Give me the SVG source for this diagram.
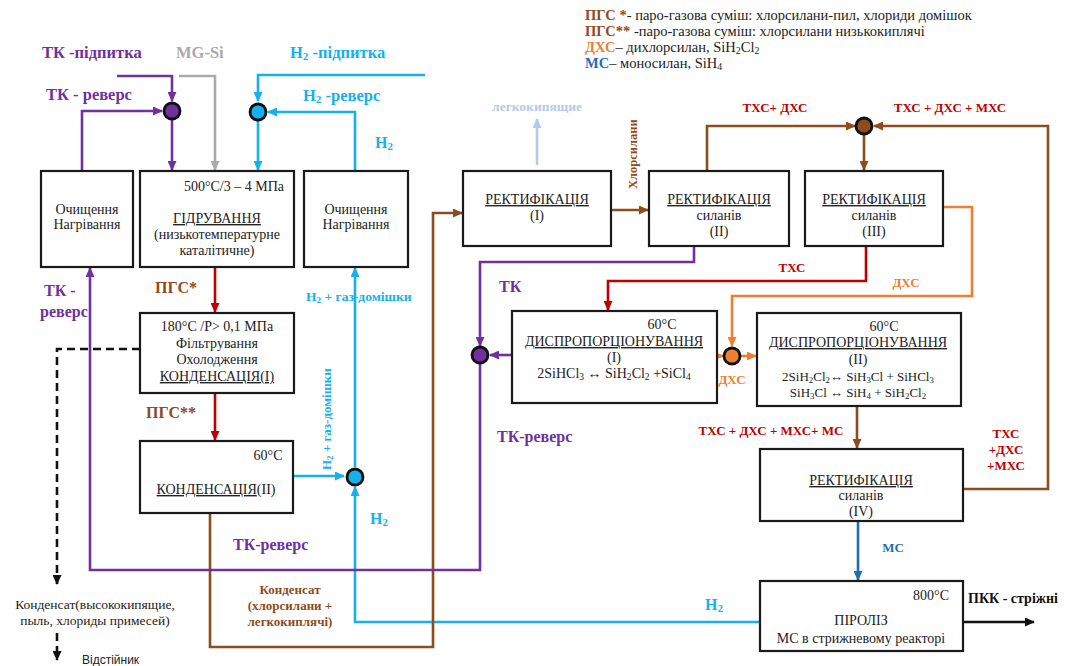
<svg xmlns="http://www.w3.org/2000/svg" width="1069" height="666" viewBox="0 0 1069 666" font-family="'Liberation Serif', 'DejaVu Serif', serif">
  <style>
    text { font-family: "Liberation Serif", "DejaVu Serif", serif; }
    .box { fill: #ffffff; stroke: #1a1a1a; stroke-width: 2.2; }
    .t { font-size: 14px; fill: #222; text-anchor: middle; }
    .u { text-decoration: underline; }
    .lbl { font-size: 16px; font-weight: bold; }
    .leg { font-size: 14.5px; fill: #222; }
    .purple { stroke: #7030a0; }
    .cyan { stroke: #14b1ec; }
    .brown { stroke: #8e4b1c; }
    .red { stroke: #c00000; }
    .orange { stroke: #ee8030; }
    .gray { stroke: #aaaaaa; }
    .navy { stroke: #1f6db5; }
    .lblue { stroke: #b5c9e8; }
    .blk { stroke: #111; }
    .ln { fill: none; stroke-width: 2.6; }
    .fp { fill: #7030a0; } .fc { fill: #14b1ec; } .fb { fill: #8e4b1c; }
    .fr { fill: #c00000; } .fo { fill: #ee8030; } .fn { fill: #1f6db5; }
    .node { stroke: #111; stroke-width: 2.8; }
    .sub { font-size: 68%; baseline-shift: -2px; }
    .sm { font-size: 13px; }
  </style>
  <defs>
    <marker id="aP" markerWidth="10" markerHeight="9" refX="9" refY="4.5" orient="auto" markerUnits="userSpaceOnUse"><path d="M0,0 L10,4.5 L0,9 Z" fill="#7030a0"/></marker>
    <marker id="aC" markerWidth="10" markerHeight="9" refX="9" refY="4.5" orient="auto" markerUnits="userSpaceOnUse"><path d="M0,0 L10,4.5 L0,9 Z" fill="#14b1ec"/></marker>
    <marker id="aB" markerWidth="10" markerHeight="9" refX="9" refY="4.5" orient="auto" markerUnits="userSpaceOnUse"><path d="M0,0 L10,4.5 L0,9 Z" fill="#8e4b1c"/></marker>
    <marker id="aR" markerWidth="10" markerHeight="9" refX="9" refY="4.5" orient="auto" markerUnits="userSpaceOnUse"><path d="M0,0 L10,4.5 L0,9 Z" fill="#c00000"/></marker>
    <marker id="aO" markerWidth="10" markerHeight="9" refX="9" refY="4.5" orient="auto" markerUnits="userSpaceOnUse"><path d="M0,0 L10,4.5 L0,9 Z" fill="#ee8030"/></marker>
    <marker id="aG" markerWidth="10" markerHeight="9" refX="9" refY="4.5" orient="auto" markerUnits="userSpaceOnUse"><path d="M0,0 L10,4.5 L0,9 Z" fill="#aaaaaa"/></marker>
    <marker id="aN" markerWidth="10" markerHeight="9" refX="9" refY="4.5" orient="auto" markerUnits="userSpaceOnUse"><path d="M0,0 L10,4.5 L0,9 Z" fill="#1f6db5"/></marker>
    <marker id="aL" markerWidth="10" markerHeight="9" refX="9" refY="4.5" orient="auto" markerUnits="userSpaceOnUse"><path d="M0,0 L10,4.5 L0,9 Z" fill="#b5c9e8"/></marker>
    <marker id="aK" markerWidth="10" markerHeight="9" refX="9" refY="4.5" orient="auto" markerUnits="userSpaceOnUse"><path d="M0,0 L10,4.5 L0,9 Z" fill="#111"/></marker>
  </defs>

  <!-- legend -->
  <g id="legend" class="leg">
    <text x="585" y="20"><tspan class="fb" font-weight="bold">ПГС *</tspan>- паро-газова суміш: хлорсилани-пил, хлориди домішок</text>
    <text x="585" y="36"><tspan class="fb" font-weight="bold">ПГС**</tspan> -паро-газова суміш: хлорсилани низькокиплячі</text>
    <text x="585" y="52"><tspan class="fo" font-weight="bold">ДХС</tspan>– дихлорсилан, SiH<tspan class="sub">2</tspan>Cl<tspan class="sub">2</tspan></text>
    <text x="585" y="68"><tspan class="fn" font-weight="bold">МС</tspan>– моносилан, SiH<tspan class="sub">4</tspan></text>
  </g>

  <!-- connectors -->
  <g id="connectors">
    <!-- feed lines into hydrogenation -->
    <path class="ln purple" d="M117,76 H172 V101" marker-end="url(#aP)"/>
    <path class="ln purple" d="M82,171 V111 H162" marker-end="url(#aP)"/>
    <path class="ln purple" d="M172,120 V170" marker-end="url(#aP)"/>
    <path class="ln gray" d="M179,76 H215 V170" marker-end="url(#aG)"/>
    <path class="ln cyan" d="M425,75 H258 V101" marker-end="url(#aC)"/>
    <path class="ln cyan" d="M355,171 V112 H268" marker-end="url(#aC)"/>
    <path class="ln cyan" d="M258,121 V170" marker-end="url(#aC)"/>
    <!-- condensation train -->
    <path class="ln red" d="M215,267 V312" marker-end="url(#aR)"/>
    <path class="ln red" d="M215,393 V440" marker-end="url(#aR)"/>
    <path d="M140,349 H57 V584" fill="none" stroke="#111" stroke-width="2.6" stroke-dasharray="8,5" marker-end="url(#aK)"/>
    <path d="M57,633 V660" fill="none" stroke="#111" stroke-width="2.6" stroke-dasharray="8,5" marker-end="url(#aK)"/>
    <!-- hydrogen recycle -->
    <path class="ln cyan" d="M293,476 H344" marker-end="url(#aC)"/>
    <path class="ln cyan" d="M355,467 V268" marker-end="url(#aC)"/>
    <path class="ln cyan" d="M760,622 H355 V487" marker-end="url(#aC)"/>
    <!-- condensate to rectification -->
    <path class="ln brown" d="M210,513 V647 H433 V213 H462" marker-end="url(#aB)"/>
    <!-- rectification chain -->
    <path class="ln lblue" d="M537,165 V119" marker-end="url(#aL)"/>
    <path class="ln brown" d="M611,210 H648" marker-end="url(#aB)"/>
    <path class="ln brown" d="M707,171 V126 H855" marker-end="url(#aB)"/>
    <path class="ln brown" d="M963,489 H1048 V126 H874" marker-end="url(#aB)"/>
    <path class="ln brown" d="M864,135 V170" marker-end="url(#aB)"/>
    <path class="ln purple" d="M694,246 V262 H480 V346" marker-end="url(#aP)"/>
    <path class="ln purple" d="M512,355 H490" marker-end="url(#aP)"/>
    <path class="ln purple" d="M480,364 V570 H90 V268" marker-end="url(#aP)"/>
    <path class="ln red" d="M866,246 V281 H608 V310" marker-end="url(#aR)"/>
    <path class="ln orange" d="M943,207 H972 V296 H732 V346" marker-end="url(#aO)"/>
    <path class="ln orange" d="M717,356 H723" marker-end="url(#aO)"/>
    <path class="ln orange" d="M741,356 H756" marker-end="url(#aO)"/>
    <path class="ln brown" d="M857,406 V448" marker-end="url(#aB)"/>
    <path class="ln navy" d="M858,521 V580" marker-end="url(#aN)"/>
    <path class="ln blk" d="M963,622 H1034" marker-end="url(#aK)"/>
  </g>

  <!-- mixing points -->
  <g id="mix-tk-feed"><circle cx="172" cy="111" r="8" class="node fp"/></g>
  <g id="mix-h2-feed"><circle cx="258" cy="112" r="8" class="node fc"/></g>
  <g id="mix-h2-recycle"><circle cx="355" cy="477" r="8" class="node fc"/></g>
  <g id="mix-tk-recycle"><circle cx="480" cy="355" r="8" class="node fp"/></g>
  <g id="mix-dcs"><circle cx="732" cy="356" r="8" class="node fo"/></g>
  <g id="mix-chlorosilanes"><circle cx="864" cy="126" r="8" class="node fb"/></g>

  <!-- process units -->
  <g id="purify-tk">
    <rect class="box" x="41" y="171" width="92" height="96"/>
    <text class="t" x="87" y="214">Очищення</text>
    <text class="t" x="87" y="229">Нагрівання</text>
  </g>
  <g id="hydrogenation">
    <rect class="box" x="140" y="171" width="154" height="96"/>
    <text class="t" x="234" y="191">500°C/3 – 4 МПа</text>
    <text class="t u" x="217" y="223">ГІДРУВАННЯ</text>
    <text class="t" x="217" y="239">(низькотемпературне</text>
    <text class="t" x="217" y="255">каталітичне)</text>
  </g>
  <g id="purify-h2">
    <rect class="box" x="304" y="171" width="104" height="96"/>
    <text class="t" x="356" y="214">Очищення</text>
    <text class="t" x="356" y="229">Нагрівання</text>
  </g>
  <g id="condensation-1">
    <rect class="box" x="140" y="313" width="154" height="80"/>
    <text class="t" x="217" y="331">180°C /P&gt; 0,1 МПа</text>
    <text class="t" x="217" y="348">Фільтрування</text>
    <text class="t" x="217" y="364">Охолодження</text>
    <text class="t u" x="217" y="381">КОНДЕНСАЦІЯ(I)</text>
  </g>
  <g id="condensation-2">
    <rect class="box" x="140" y="441" width="153" height="72"/>
    <text class="t" x="268" y="460">60°C</text>
    <text class="t" x="216" y="494"><tspan class="u">КОНДЕНСАЦІЯ</tspan>(II)</text>
  </g>
  <g id="rect-1">
    <rect class="box" x="463" y="171" width="148" height="75"/>
    <text class="t u" x="537" y="204">РЕКТИФІКАЦІЯ</text>
    <text class="t" x="537" y="220">(I)</text>
  </g>
  <g id="rect-2">
    <rect class="box" x="649" y="171" width="140" height="75"/>
    <text class="t u" x="719" y="204">РЕКТИФІКАЦІЯ</text>
    <text class="t" x="719" y="220">силанів</text>
    <text class="t" x="719" y="236">(II)</text>
  </g>
  <g id="rect-3">
    <rect class="box" x="805" y="171" width="138" height="75"/>
    <text class="t u" x="874" y="204">РЕКТИФІКАЦІЯ</text>
    <text class="t" x="874" y="220">силанів</text>
    <text class="t" x="874" y="236">(III)</text>
  </g>
  <g id="disprop-1">
    <rect class="box" x="512" y="311" width="205" height="92"/>
    <text class="t" x="662" y="329">60°C</text>
    <text class="t u" x="614" y="346">ДИСПРОПОРЦІОНУВАННЯ</text>
    <text class="t" x="614" y="362">(I)</text>
    <text class="t" x="614" y="378">2SiHCl<tspan class="sub">3</tspan> ↔ SiH<tspan class="sub">2</tspan>Cl<tspan class="sub">2</tspan> +SiCl<tspan class="sub">4</tspan></text>
  </g>
  <g id="disprop-2">
    <rect class="box" x="757" y="313" width="204" height="93"/>
    <text class="t" x="884" y="331">60°C</text>
    <text class="t u" x="858" y="347">ДИСПРОПОРЦІОНУВАННЯ</text>
    <text class="t" x="858" y="364">(II)</text>
    <text class="t sm" x="858" y="381">2SiH<tspan class="sub">2</tspan>Cl<tspan class="sub">2</tspan>↔ SiH<tspan class="sub">3</tspan>Cl + SiHCl<tspan class="sub">3</tspan></text>
    <text class="t sm" x="858" y="397">SiH<tspan class="sub">3</tspan>Cl ↔ SiH<tspan class="sub">4</tspan> + SiH<tspan class="sub">2</tspan>Cl<tspan class="sub">2</tspan></text>
  </g>
  <g id="rect-4">
    <rect class="box" x="760" y="449" width="203" height="72"/>
    <text class="t u" x="861" y="485">РЕКТИФІКАЦІЯ</text>
    <text class="t" x="861" y="500">силанів</text>
    <text class="t" x="861" y="516">(IV)</text>
  </g>
  <g id="pyrolysis">
    <rect class="box" x="760" y="581" width="203" height="70"/>
    <text class="t" x="931" y="600">800°C</text>
    <text class="t" x="861" y="625">ПІРОЛІЗ</text>
    <text class="t" x="861" y="643">МС в стрижневому реакторі</text>
  </g>

  <!-- stream labels -->
  <g id="labels" class="lbl">
    <text x="42" y="58" class="fp" font-size="16.5">ТК  -підпитка</text>
    <text x="176" y="58" fill="#aaaaaa" font-size="16.5">MG-Si</text>
    <text x="290" y="58" class="fc" font-size="16.5">H<tspan class="sub">2</tspan> -підпитка</text>
    <text x="46" y="100" class="fp" font-size="16.5">ТК  - реверс</text>
    <text x="303" y="101" class="fc" font-size="16.5">H<tspan class="sub">2</tspan> -реверс</text>
    <text x="375" y="148" class="fc">H<tspan class="sub">2</tspan></text>
    <text x="44" y="296" class="fp">ТК  -</text>
    <text x="40" y="317" class="fp">реверс</text>
    <text x="155" y="293" class="fb">ПГС*</text>
    <text x="146" y="418" class="fb">ПГС**</text>
    <text x="306" y="301" class="fc" font-size="13.5">H<tspan class="sub">2</tspan> + газ-домішки</text>
    <text transform="translate(331,470) rotate(-90)" class="fc" font-size="13">H<tspan class="sub">2</tspan> + газ-домішки</text>
    <text x="370" y="524" class="fc">H<tspan class="sub">2</tspan></text>
    <text x="233" y="550" class="fp">ТК-реверс</text>
    <text x="290" y="594" class="fb" text-anchor="middle" font-size="13">Конденсат</text>
    <text x="290" y="610" class="fb" text-anchor="middle" font-size="13">(хлорсилани +</text>
    <text x="290" y="626" class="fb" text-anchor="middle" font-size="13">легкокиплячі)</text>
    <text x="95" y="609" font-weight="normal" font-size="13.5" fill="#222" text-anchor="middle">Конденсат(высококипящие,</text>
    <text x="95" y="625" font-weight="normal" font-size="13.5" fill="#222" text-anchor="middle">пыль, хлориды примесей)</text>
    <text x="82" y="664" font-weight="normal" font-size="12" fill="#222" style="font-family:'Liberation Sans', Arial, sans-serif">Відстійник</text>
    <text x="537" y="111" fill="#b5c9e8" font-size="13.5" text-anchor="middle">легкокипящие</text>
    <text transform="translate(637,189) rotate(-90)" class="fb" font-size="12.5">Хлорсилани</text>
    <text x="775" y="112" class="fr" text-anchor="middle" font-size="13">ТХС+ ДХС</text>
    <text x="950" y="112" class="fr" text-anchor="middle" font-size="13">ТХС + ДХС + МХС</text>
    <text x="792" y="272" class="fr" text-anchor="middle" font-size="13">ТХС</text>
    <text x="906" y="287" class="fo" text-anchor="middle" font-size="13">ДХС</text>
    <text x="499" y="292" class="fp">ТК</text>
    <text x="732" y="384" class="fo" text-anchor="middle" font-size="13">ДХС</text>
    <text x="497" y="442" class="fp">ТК-реверс</text>
    <text x="771" y="435" class="fr" text-anchor="middle" font-size="13">ТХС + ДХС + МХС+ МС</text>
    <text x="1006" y="438" class="fr" text-anchor="middle" font-size="13">ТХС</text>
    <text x="1006" y="454" class="fr" text-anchor="middle" font-size="13">+ДХС</text>
    <text x="1006" y="470" class="fr" text-anchor="middle" font-size="13">+МХС</text>
    <text x="893" y="552" class="fn" text-anchor="middle" font-size="13">МС</text>
    <text x="714" y="610" class="fc" text-anchor="middle">H<tspan class="sub">2</tspan></text>
    <text x="968" y="603" fill="#111" font-size="14">ПКК - стріжні</text>
  </g>
</svg>
